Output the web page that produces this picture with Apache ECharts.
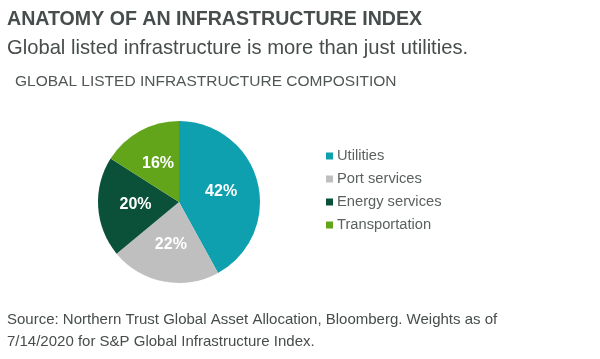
<!DOCTYPE html>
<html>
<head>
<meta charset="utf-8">
<script src="https://cdn.jsdelivr.net/npm/echarts@6/dist/echarts.min.js"></script>
<style>html,body{margin:0;padding:0;background:#fff;}#c{width:600px;height:359px;}</style>
</head>
<body>
<div id="c"></div>
<script>
const categories = ["Utilities", "Port services", "Energy services", "Transportation"];
const values = [42, 22, 20, 16];
const colors = ["#0EA0AF", "#BFBFBF", "#0B5139", "#62A51B"];

const chart = echarts.init(document.getElementById('c'), null, {renderer: 'canvas'});
const font = '"Liberation Sans", Arial, sans-serif';
chart.setOption({
  backgroundColor: '#fff',
  animation: false,
  title: [
    {text: 'ANATOMY OF AN INFRASTRUCTURE INDEX', left: 7, top: 10, padding: 0,
     textStyle: {fontFamily: font, fontSize: 19.6, fontWeight: 'bold', color: '#474C4C'}},
    {text: 'Global listed infrastructure is more than just utilities.', left: 7, top: 38, padding: 0,
     textStyle: {fontFamily: font, fontSize: 20.2, fontWeight: 'normal', color: '#474C4C'}},
    {text: 'GLOBAL LISTED INFRASTRUCTURE COMPOSITION', left: 15, top: 74, padding: 0,
     textStyle: {fontFamily: font, fontSize: 15.5, fontWeight: 'normal', color: '#505555'}},
    {text: 'Source: Northern Trust Global Asset Allocation, Bloomberg. Weights as of\n7/14/2020 for S&P Global Infrastructure Index.', left: 7, top: 309, padding: 0,
     textStyle: {fontFamily: font, fontSize: 15, fontWeight: 'normal', color: '#474C4C', lineHeight: 22}}
  ],
  legend: {
    orient: 'vertical', left: 321, top: 143,
    itemWidth: 7, itemHeight: 7, itemGap: 7, icon: 'rect',
    textStyle: {fontFamily: font, fontSize: 14.7, color: '#5A5F5F', lineHeight: 16, padding: [0,0,0,-1]},
    data: categories
  },
  series: [{
    type: 'pie', center: [179, 202], radius: 81, startAngle: 90, clockwise: true,
    color: colors,
    label: {show: true, position: 'inside', formatter: '{c}%', color: '#fff',
      fontFamily: font, fontSize: 16, fontWeight: 'bold'},
    labelLine: {show: false},
    emphasis: {disabled: true},
    itemStyle: {borderWidth: 0},
    data: categories.map((n, i) => ({name: n, value: values[i]}))
  }]
});
</script>
</body>
</html>
